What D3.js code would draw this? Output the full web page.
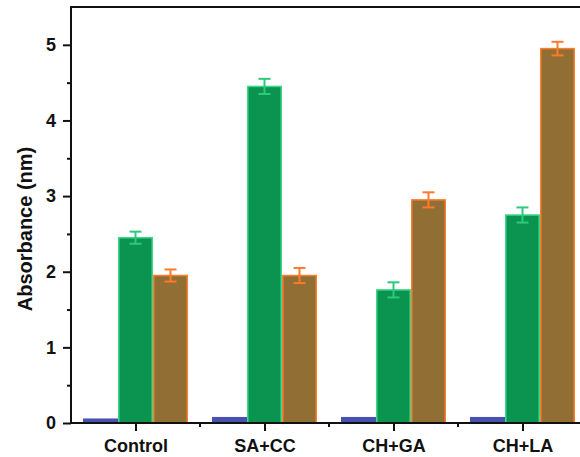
<!DOCTYPE html>
<html><head><meta charset="utf-8">
<script src="https://cdn.jsdelivr.net/npm/d3@7/dist/d3.min.js"></script>
<style>
html,body{margin:0;padding:0;background:#fff;}
svg{display:block;font-family:"Liberation Sans",Arial,sans-serif;}
</style></head><body>
<svg id="chart" width="580" height="457"></svg>
<script>
const categories = ["Control", "SA+CC", "CH+GA", "CH+LA"];
const seriesNames = ["blank", "s1", "s2"];
const blueValues = [0.05, 0.07, 0.07, 0.07];
const greenValues = [2.45, 4.45, 1.76, 2.75];
const greenErrors = [0.08, 0.1, 0.1, 0.1];
const orangeValues = [1.95, 1.95, 2.95, 4.95];
const orangeErrors = [0.08, 0.1, 0.1, 0.09];
const yTicks = [0, 1, 2, 3, 4, 5];
const yMinorTicks = [0.5, 1.5, 2.5, 3.5, 4.5];

const styles = {
  blank: {fill: "#4851b0", stroke: "#4851b0", err: null},
  s1: {fill: "#0b9450", stroke: "#3fd88a", err: "#2ec97a"},
  s2: {fill: "#916e33", stroke: "#ff7d2c", err: "#ff7a2a"}
};

const svg = d3.select("#chart");
const pLeft = 71, pRight = 587, pTop = 7, pBottom = 423;

const x = d3.scalePoint().domain(categories).range([pLeft, pRight]).padding(0.5);
const step = x.step();
const xs = d3.scaleBand().domain(seriesNames).range([-52.5, 52.5]).padding(0);
const y = d3.scaleLinear().domain([0, 5.5]).range([pBottom, pTop]);

const data = [];
categories.forEach((c, i) => {
  data.push({cat: c, s: "blank", v: blueValues[i], e: null});
  data.push({cat: c, s: "s1", v: greenValues[i], e: greenErrors[i]});
  data.push({cat: c, s: "s2", v: orangeValues[i], e: orangeErrors[i]});
});

const g = svg.append("g");
g.selectAll("rect.bar").data(data).join("rect")
  .attr("class", "bar")
  .attr("x", d => x(d.cat) + xs(d.s) + 0.75)
  .attr("width", xs.bandwidth() - 1.5)
  .attr("y", d => y(d.v))
  .attr("height", d => y(0) - y(d.v))
  .attr("fill", d => styles[d.s].fill)
  .attr("stroke", d => styles[d.s].stroke)
  .attr("stroke-width", 1.5);

const errData = data.filter(d => d.e != null);
const eg = g.selectAll("g.err").data(errData).join("g").attr("class", "err")
  .attr("stroke", d => styles[d.s].err).attr("stroke-width", 2).attr("fill", "none");
eg.append("line")
  .attr("x1", d => x(d.cat) + xs(d.s) + xs.bandwidth() / 2)
  .attr("x2", d => x(d.cat) + xs(d.s) + xs.bandwidth() / 2)
  .attr("y1", d => y(d.v + d.e)).attr("y2", d => y(d.v - d.e));
eg.append("line")
  .attr("x1", d => x(d.cat) + xs(d.s) + xs.bandwidth() / 2 - 6)
  .attr("x2", d => x(d.cat) + xs(d.s) + xs.bandwidth() / 2 + 6)
  .attr("y1", d => y(d.v + d.e)).attr("y2", d => y(d.v + d.e));
eg.append("line")
  .attr("x1", d => x(d.cat) + xs(d.s) + xs.bandwidth() / 2 - 6)
  .attr("x2", d => x(d.cat) + xs(d.s) + xs.bandwidth() / 2 + 6)
  .attr("y1", d => y(d.v - d.e)).attr("y2", d => y(d.v - d.e));

// Axes
const yAxis = d3.axisLeft(y).tickValues(yTicks).tickSize(8).tickPadding(7).tickFormat(d3.format("d"));
const ya = svg.append("g").attr("transform", `translate(${pLeft},0)`).call(yAxis);
ya.select(".domain").remove();
ya.selectAll(".tick line").attr("stroke", "#111").attr("stroke-width", 2);
ya.selectAll(".tick text").attr("fill", "#111").style("font-size", "18px").style("font-weight", "bold")
  .style("font-family", "'Liberation Sans', Arial, sans-serif");
const yMinor = d3.axisLeft(y).tickValues(yMinorTicks).tickSize(4).tickFormat("");
const ym = svg.append("g").attr("transform", `translate(${pLeft},0)`).call(yMinor);
ym.select(".domain").remove();
ym.selectAll(".tick line").attr("stroke", "#111").attr("stroke-width", 2);

const xAxis = d3.axisBottom(x).tickSize(8).tickPadding(8);
const xa = svg.append("g").attr("transform", `translate(0,${pBottom})`).call(xAxis);
xa.select(".domain").remove();
xa.selectAll(".tick line").attr("stroke", "#111").attr("stroke-width", 2);
xa.selectAll(".tick text").attr("fill", "#111").style("font-size", "18px").style("font-weight", "bold")
  .style("font-family", "'Liberation Sans', Arial, sans-serif");
const xMinorVals = categories.slice(1).map(c => x(c) - step / 2);
svg.append("g").selectAll("line").data(xMinorVals).join("line")
  .attr("x1", d => d).attr("x2", d => d).attr("y1", pBottom).attr("y2", pBottom + 4)
  .attr("stroke", "#111").attr("stroke-width", 2);

// frame lines
svg.append("line").attr("x1", pLeft).attr("x2", pLeft).attr("y1", pTop).attr("y2", pBottom + 1)
  .attr("stroke", "#111").attr("stroke-width", 2);
svg.append("line").attr("x1", pLeft - 1).attr("x2", pRight).attr("y1", pBottom).attr("y2", pBottom)
  .attr("stroke", "#111").attr("stroke-width", 2);
svg.append("line").attr("x1", pLeft - 1).attr("x2", pRight).attr("y1", pTop).attr("y2", pTop)
  .attr("stroke", "#111").attr("stroke-width", 2);

// y label
svg.append("text")
  .attr("transform", `translate(32,${(pTop + pBottom) / 2 + 14}) rotate(-90)`)
  .attr("text-anchor", "middle")
  .style("font-size", "20px").style("font-weight", "bold").attr("fill", "#111")
  .text("Absorbance (nm)");
</script>
</body></html>
